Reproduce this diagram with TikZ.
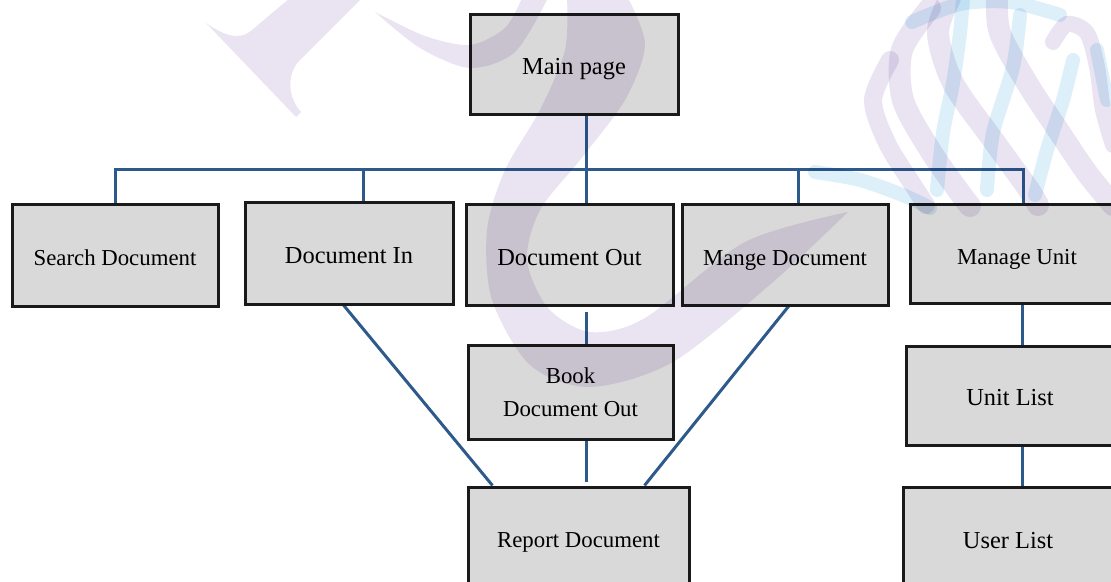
\documentclass[tikz,border=0pt]{standalone}
\usepackage{fontspec}
\setmainfont{Liberation Serif}
\definecolor{linkblue}{HTML}{2D5A8A}
\definecolor{boxfill}{HTML}{D9D9D9}
\definecolor{boxline}{HTML}{1A1A1A}
\definecolor{wmviolet}{HTML}{EAE4F2}
\definecolor{wmcyan}{HTML}{DDF0F9}
\pgfdeclarelayer{background}
\pgfdeclarelayer{foreground}
\pgfsetlayers{background,main,foreground}
\tikzset{
  box/.style={draw=boxline, fill=boxfill, line width=1.5pt, inner sep=0pt, align=center},
  oneline/.style={text height=10.3pt, text depth=0.3pt},
  big/.style={oneline, font=\fontsize{12.2}{14}\selectfont},
  small/.style={oneline, font=\fontsize{11.4}{16.5}\selectfont},
  twoline/.style={font=\fontsize{11.4}{16.5}\selectfont},
  link/.style={draw=linkblue, line width=1.5pt},
  ribbon/.style={draw=wmviolet, line width=11pt, line cap=round},
  thread/.style={draw=wmcyan, line width=7pt, line cap=round},
}
\begin{document}
\begin{tikzpicture}[x=0.5pt,y=-0.5pt]
\useasboundingbox (0,0) rectangle (1111,582);
\clip (0,0) rectangle (1111,582);

% boxes
\node[box,big,  minimum width=104pt,  minimum height=50pt]   (main)     at (574,65)     {Main page};
\node[box,small,minimum width=103pt,  minimum height=50.5pt] (search)   at (115,255.5)  {Search Document};
\node[box,big,  minimum width=104pt,  minimum height=50.5pt] (docin)    at (349,253.5)  {Document In};
\node[box,big,  minimum width=103.5pt,minimum height=50pt]   (docout)   at (569.5,255)  {Document Out};
\node[box,small,minimum width=103pt,  minimum height=50pt]   (mange)    at (785,255)    {Mange Document};
\node[box,small,minimum width=107pt,  minimum height=49pt]   (unit)     at (1017,254)   {Manage Unit};
\node[box,twoline,minimum width=102.5pt,minimum height=47pt] (book)     at (570.5,392)  {Book\\Document Out};
\node[box,small,minimum width=110.5pt,minimum height=50pt]   (report)   at (578.5,537)  {Report Document};
\node[box,big,  minimum width=104pt,  minimum height=49.5pt] (unitlist) at (1010,395.5) {Unit List};
\node[box,big,  minimum width=105pt,  minimum height=51.5pt] (userlist) at (1008,538.5) {User List};

% connectors
\coordinate (spine) at (586,170);
\coordinate (busR)  at (1023,170);
\coordinate (ucol)  at (1022,0);
\begin{pgfonlayer}{background}
  \draw[link] (search.north) |- (busR) -- (busR |- unit.north);
  \draw[link] (main.south -| spine) -- (docout.north -| spine);
  \draw[link] ([xshift=7pt]docin.north) -- ([xshift=7pt]docin.north |- spine);
  \draw[link] ([xshift=6.5pt]mange.north) -- ([xshift=6.5pt]mange.north |- spine);
  \draw[link] ([yshift=-2.5pt]docout.south -| spine) -- (book.north -| spine);
  \draw[link] (book.south -| spine) -- ([yshift=2pt]report.north -| spine);
  \draw[link] ([xshift=-3pt,yshift=0.5pt]docin.south) -- ([xshift=-43pt]report.north);
  \draw[link] ([xshift=2.5pt,yshift=1pt]mange.south) -- ([xshift=33pt]report.north);
  \draw[link] (unit.south -| ucol) -- (unitlist.north -| ucol);
  \draw[link] (unitlist.south -| ucol) -- (userlist.north -| ucol);
\end{pgfonlayer}

% logo watermark, multiplied over the chart
\begin{pgfonlayer}{foreground}
\begin{scope}[blend mode=multiply]
  % left letter
  \fill[wmviolet] (206,23) .. controls (222,34) and (238,42) .. (252,30)
     -- (290,-2) -- (362,-2) -- (300,60) .. controls (286,74) and (288,98) .. (301,112)
     -- (296,117) -- cycle;
  % upper bowl
  \fill[wmviolet] plot[smooth] coordinates {(375,12) (420,48) (470,68) (515,52) (548,-2)}
     -- plot[smooth] coordinates {(522,-2) (505,28) (470,45) (425,36) (375,12)} -- cycle;
  % large sweep
  \fill[wmviolet] plot[smooth] coordinates {(567,-2) (565,50) (540,110) (505,170) (487,230)
        (492,300) (530,365) (590,387) (673,362) (773,282) (848,212)}
     -- plot[smooth] coordinates {(848,212) (745,242) (645,318) (590,332) (548,308)
        (527,260) (540,210) (580,160) (625,100) (645,45) (628,-2)} -- cycle;
  % ribbon globe
  \draw[thread] plot[smooth] coordinates {(815,172) (860,180) (905,196) (930,208)};
  \draw[thread] plot[smooth] coordinates {(963,-2) (960,33) (953,83) (943,133) (937,190)};
  \draw[thread] plot[smooth] coordinates {(1020,15) (1013,67) (993,133) (987,190)};
  \draw[thread] plot[smooth] coordinates {(1073,60) (1063,100) (1047,150) (1035,195)};
  \draw[thread] plot[smooth] coordinates {(1097,50) (1107,100)};
  \draw[thread] plot[smooth] coordinates {(912,22) (960,4) (1010,2) (1060,15)};
  \draw[ribbon,line width=9pt] plot[smooth] coordinates {(890,60) (873,100) (887,143) (913,185) (926,205)};
  \draw[ribbon] plot[smooth] coordinates {(930,8) (902,50) (903,100) (930,150) (960,193) (970,206)};
  \draw[ribbon] plot[smooth] coordinates {(950,-2) (938,33) (953,83) (993,140) (1027,187) (1038,205)};
  \draw[ribbon] plot[smooth] coordinates {(997,-2) (1000,33) (1027,83) (1060,133) (1087,173) (1113,205)};
  \draw[ribbon,line width=8pt] plot[smooth] coordinates {(1053,42) (1067,24) (1087,33) (1097,67) (1103,110) (1113,145)};
\end{scope}
\end{pgfonlayer}
\end{tikzpicture}
\end{document}
